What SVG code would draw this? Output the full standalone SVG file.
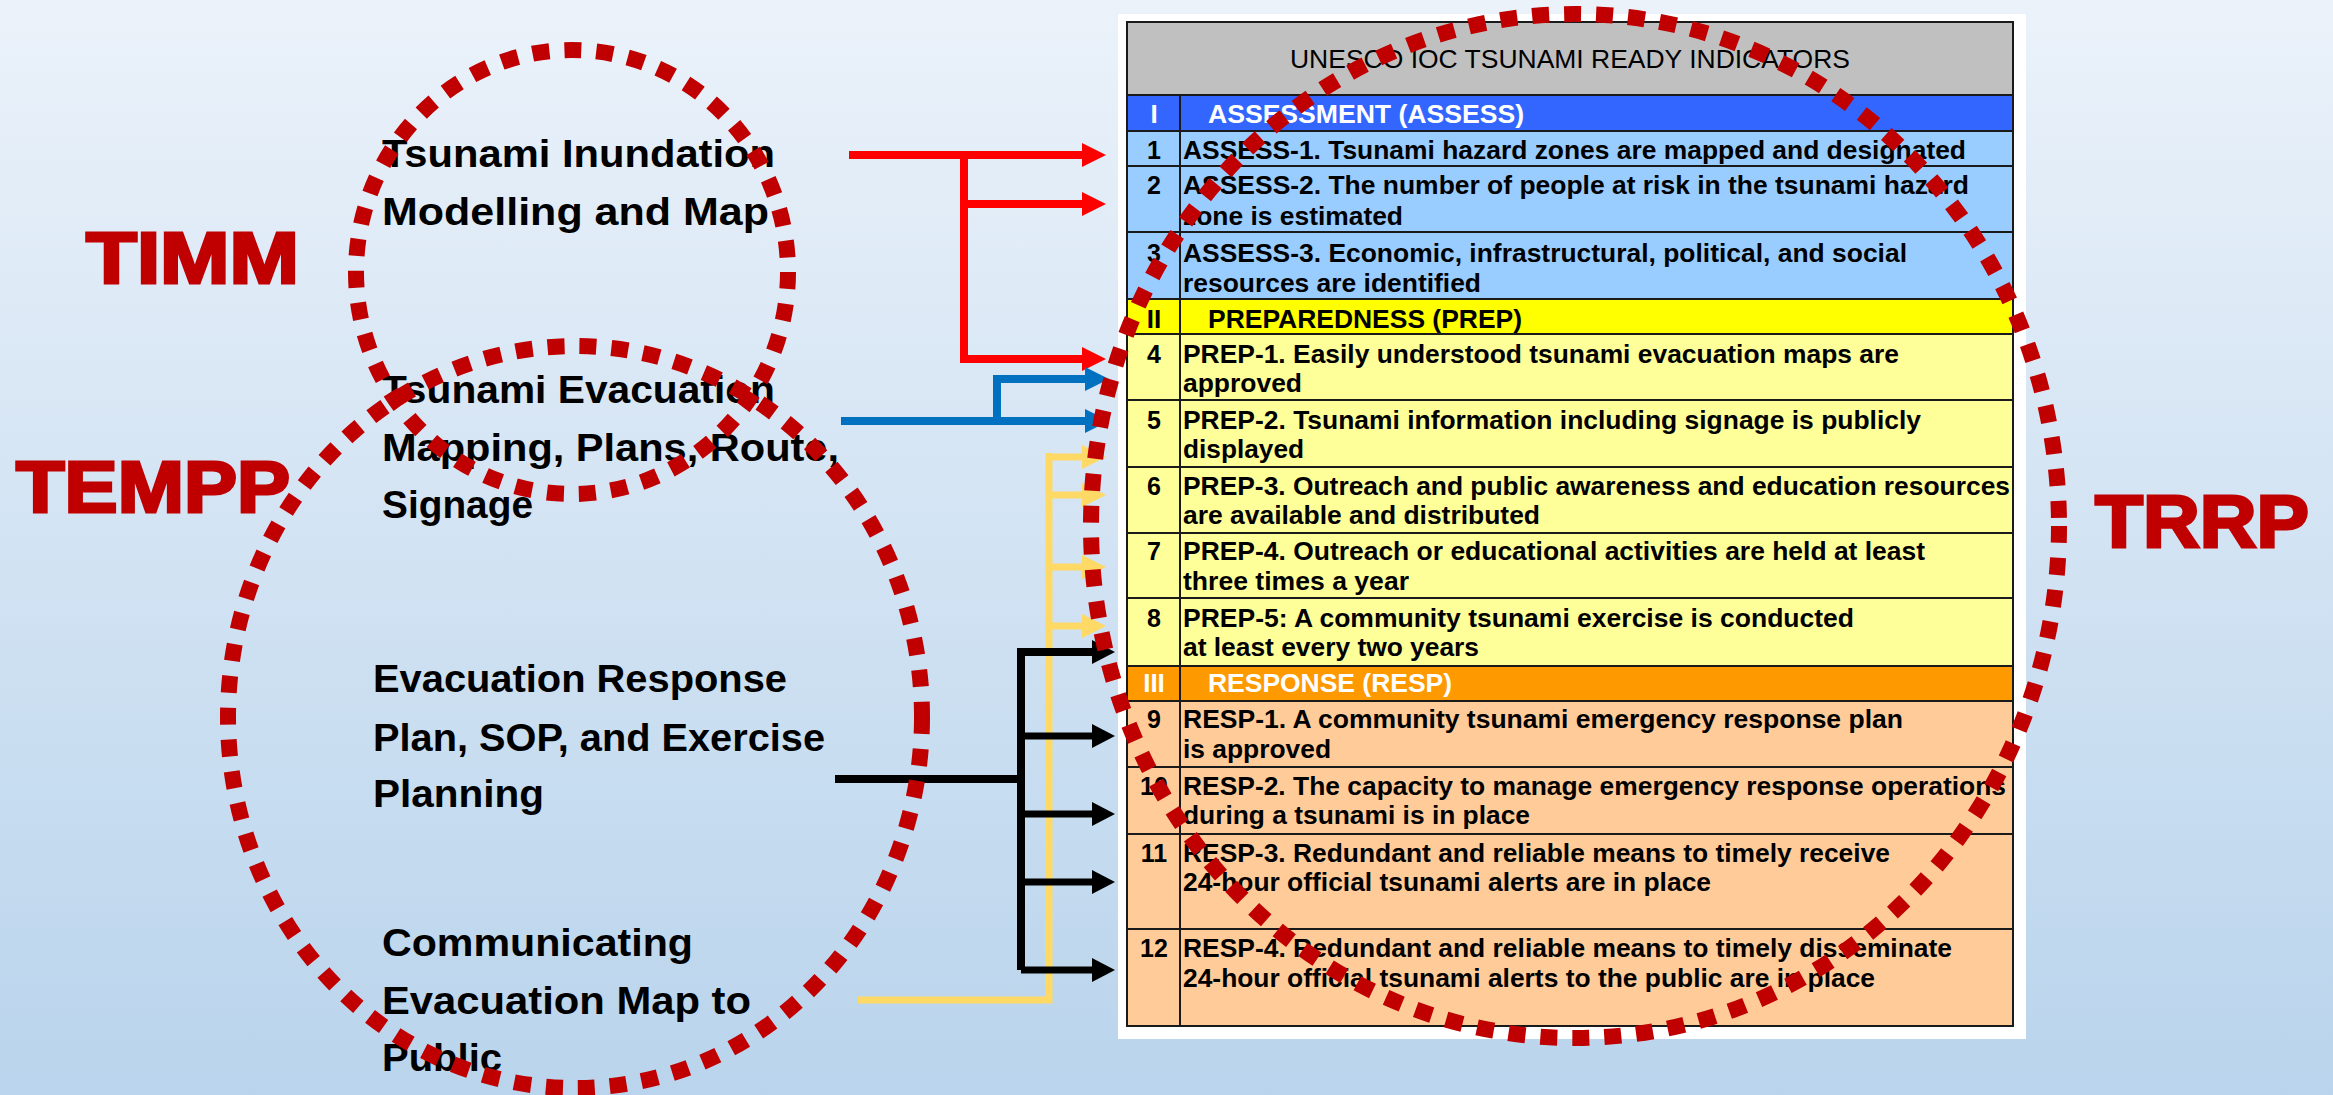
<svg xmlns="http://www.w3.org/2000/svg" width="2333" height="1095" viewBox="0 0 2333 1095">
<defs>
<linearGradient id="bg" x1="0" y1="0" x2="0" y2="1">
<stop offset="0" stop-color="#EBF2FA"/>
<stop offset="1" stop-color="#B9D4EC"/>
</linearGradient>
<marker id="ah-red" markerUnits="userSpaceOnUse" markerWidth="24" markerHeight="24" refX="0" refY="12" orient="auto" overflow="visible"><path d="M0,0 L24,12 L0,24 Z" fill="#FF0000"/></marker>
<marker id="ah-blue" markerUnits="userSpaceOnUse" markerWidth="24" markerHeight="24" refX="0" refY="12" orient="auto" overflow="visible"><path d="M0,0 L24,12 L0,24 Z" fill="#0070C0"/></marker>
<marker id="ah-yellow" markerUnits="userSpaceOnUse" markerWidth="24" markerHeight="24" refX="0" refY="12" orient="auto" overflow="visible"><path d="M0,0 L24,12 L0,24 Z" fill="#FFD966"/></marker>
<marker id="ah-black" markerUnits="userSpaceOnUse" markerWidth="24" markerHeight="24" refX="0" refY="12" orient="auto" overflow="visible"><path d="M0,0 L23,12 L0,24 Z" fill="#000000"/></marker>
</defs>
<style>
.lbl{font-family:"Liberation Sans",Arial,sans-serif;font-weight:bold;font-size:39px;fill:#000}
.big{font-family:"Liberation Sans",Arial,sans-serif;font-weight:bold;font-size:72px;fill:#C00000;stroke:#C00000;stroke-width:3;stroke-linejoin:miter}
.cell{font-family:"Liberation Sans",Arial,sans-serif;font-weight:bold;font-size:25px;fill:#000}
.num{font-family:"Liberation Sans",Arial,sans-serif;font-weight:bold;font-size:25px;fill:#000;text-anchor:middle}
.sec{font-family:"Liberation Sans",Arial,sans-serif;font-weight:bold;font-size:26px}
.title{font-family:"Liberation Sans",Arial,sans-serif;font-size:25px;fill:#000;text-anchor:middle}
.grid{stroke:#1a1a1a;stroke-width:2;fill:none}
.ring{fill:none;stroke:#C00000;stroke-width:16;stroke-dasharray:17 15}
.red{fill:none;stroke:#FF0000;stroke-width:8}
.blue{fill:none;stroke:#0070C0;stroke-width:8}
.yel{fill:none;stroke:#FFD966;stroke-width:7}
.blk{fill:none;stroke:#000;stroke-width:7}
</style>
<rect x="0" y="0" width="2333" height="1095" fill="url(#bg)"/>

<g id="node-table">
<rect x="1118" y="14" width="908" height="1025" fill="#FFFFFF"/>
<rect x="1127" y="22" width="886" height="73" fill="#C0C0C0"/>
<rect x="1127" y="95" width="886" height="36" fill="#3366FF"/>
<rect x="1127" y="131" width="886" height="168" fill="#99CCFF"/>
<rect x="1127" y="299" width="886" height="35" fill="#FFFF00"/>
<rect x="1127" y="334" width="886" height="332" fill="#FFFF99"/>
<rect x="1127" y="666" width="886" height="35" fill="#FF9900"/>
<rect x="1127" y="701" width="886" height="325" fill="#FFCC99"/>
<path class="grid" d="M1127,95 H2013 M1127,131 H2013 M1127,166 H2013 M1127,232 H2013 M1127,299 H2013 M1127,334 H2013 M1127,400 H2013 M1127,467 H2013 M1127,533 H2013 M1127,598 H2013 M1127,666 H2013 M1127,701 H2013 M1127,767 H2013 M1127,834 H2013 M1127,929 H2013 M1180,95 V1026"/>
<rect class="grid" x="1127" y="22" width="886" height="1004"/>
<text class="title" x="1570" y="68" textLength="560" lengthAdjust="spacingAndGlyphs">UNESCO IOC TSUNAMI READY INDICATORS</text>
<text class="sec" x="1154" y="123" fill="#FFFFFF" text-anchor="middle">I</text>
<text class="sec" x="1208" y="123" fill="#FFFFFF" textLength="316" lengthAdjust="spacingAndGlyphs">ASSESSMENT (ASSESS)</text>
<text class="sec" x="1154" y="328" fill="#000" text-anchor="middle">II</text>
<text class="sec" x="1208" y="328" fill="#000" textLength="314" lengthAdjust="spacingAndGlyphs">PREPAREDNESS (PREP)</text>
<text class="sec" x="1154" y="692" fill="#FFFFFF" text-anchor="middle">III</text>
<text class="sec" x="1208" y="692" fill="#FFFFFF" textLength="244" lengthAdjust="spacingAndGlyphs">RESPONSE (RESP)</text>

<text class="num" x="1154" y="159">1</text>
<text class="cell" x="1183" y="159" textLength="783" lengthAdjust="spacingAndGlyphs">ASSESS-1. Tsunami hazard zones are mapped and designated</text>
<text class="num" x="1154" y="194">2</text>
<text class="cell" x="1183" y="194" textLength="786" lengthAdjust="spacingAndGlyphs">ASSESS-2. The number of people at risk in the tsunami hazard</text>
<text class="cell" x="1183" y="225" textLength="220" lengthAdjust="spacingAndGlyphs">zone is estimated</text>
<text class="num" x="1154" y="262">3</text>
<text class="cell" x="1183" y="262" textLength="724" lengthAdjust="spacingAndGlyphs">ASSESS-3. Economic, infrastructural, political, and social</text>
<text class="cell" x="1183" y="292" textLength="298" lengthAdjust="spacingAndGlyphs">resources are identified</text>

<text class="num" x="1154" y="363">4</text>
<text class="cell" x="1183" y="363" textLength="716" lengthAdjust="spacingAndGlyphs">PREP-1. Easily understood tsunami evacuation maps are</text>
<text class="cell" x="1183" y="392" textLength="119" lengthAdjust="spacingAndGlyphs">approved</text>
<text class="num" x="1154" y="429">5</text>
<text class="cell" x="1183" y="429" textLength="738" lengthAdjust="spacingAndGlyphs">PREP-2. Tsunami information including signage is publicly</text>
<text class="cell" x="1183" y="458" textLength="121" lengthAdjust="spacingAndGlyphs">displayed</text>
<text class="num" x="1154" y="495">6</text>
<text class="cell" x="1183" y="495" textLength="827" lengthAdjust="spacingAndGlyphs">PREP-3. Outreach and public awareness and education resources</text>
<text class="cell" x="1183" y="524" textLength="357" lengthAdjust="spacingAndGlyphs">are available and distributed</text>
<text class="num" x="1154" y="560">7</text>
<text class="cell" x="1183" y="560" textLength="742" lengthAdjust="spacingAndGlyphs">PREP-4. Outreach or educational activities are held at least</text>
<text class="cell" x="1183" y="590" textLength="226" lengthAdjust="spacingAndGlyphs">three times a year</text>
<text class="num" x="1154" y="627">8</text>
<text class="cell" x="1183" y="627" textLength="671" lengthAdjust="spacingAndGlyphs">PREP-5: A community tsunami exercise is conducted</text>
<text class="cell" x="1183" y="656" textLength="296" lengthAdjust="spacingAndGlyphs">at least every two years</text>

<text class="num" x="1154" y="728">9</text>
<text class="cell" x="1183" y="728" textLength="720" lengthAdjust="spacingAndGlyphs">RESP-1. A community tsunami emergency response plan</text>
<text class="cell" x="1183" y="758" textLength="148" lengthAdjust="spacingAndGlyphs">is approved</text>
<text class="num" x="1154" y="795">10</text>
<text class="cell" x="1183" y="795" textLength="823" lengthAdjust="spacingAndGlyphs">RESP-2. The capacity to manage emergency response operations</text>
<text class="cell" x="1183" y="824" textLength="347" lengthAdjust="spacingAndGlyphs">during a tsunami is in place</text>
<text class="num" x="1154" y="862">11</text>
<text class="cell" x="1183" y="862" textLength="707" lengthAdjust="spacingAndGlyphs">RESP-3. Redundant and reliable means to timely receive</text>
<text class="cell" x="1183" y="891" textLength="528" lengthAdjust="spacingAndGlyphs">24-hour official tsunami alerts are in place</text>
<text class="num" x="1154" y="957">12</text>
<text class="cell" x="1183" y="957" textLength="769" lengthAdjust="spacingAndGlyphs">RESP-4. Redundant and reliable means to timely disseminate</text>
<text class="cell" x="1183" y="987" textLength="692" lengthAdjust="spacingAndGlyphs">24-hour official tsunami alerts to the public are in place</text>
</g>

<g id="connectors">
<path class="red" d="M849,155 H1082" marker-end="url(#ah-red)"/>
<path class="red" d="M964,155 V359 H1082" marker-end="url(#ah-red)"/>
<path class="red" d="M964,204 H1082" marker-end="url(#ah-red)"/>
<path class="blue" d="M841,421 H1085" marker-end="url(#ah-blue)"/>
<path class="blue" d="M997,421 V379 H1085" marker-end="url(#ah-blue)"/>
<path class="yel" d="M858,1000 H1049 V453"/>
<path class="yel" d="M1049,457 H1082" marker-end="url(#ah-yellow)"/>
<path class="yel" d="M1049,495 H1082" marker-end="url(#ah-yellow)"/>
<path class="yel" d="M1049,567 H1082" marker-end="url(#ah-yellow)"/>
<path class="yel" d="M1049,626 H1082" marker-end="url(#ah-yellow)"/>
<path class="blk" d="M835,779 H1021" style="stroke-width:8"/>
<path class="blk" d="M1021,970 V652 H1092" style="stroke-width:8" marker-end="url(#ah-black)"/>
<path class="blk" d="M1021,736 H1092" marker-end="url(#ah-black)"/>
<path class="blk" d="M1021,814 H1092" marker-end="url(#ah-black)"/>
<path class="blk" d="M1021,882 H1092" marker-end="url(#ah-black)"/>
<path class="blk" d="M1021,970 H1092" marker-end="url(#ah-black)"/>
</g>

<g id="node-inundation">
<text class="lbl" x="382" y="167" textLength="393" lengthAdjust="spacingAndGlyphs">Tsunami Inundation</text>
<text class="lbl" x="382" y="225" textLength="387" lengthAdjust="spacingAndGlyphs">Modelling and Map</text>
</g>
<g id="node-evac-mapping">
<text class="lbl" x="382" y="403" textLength="393" lengthAdjust="spacingAndGlyphs">Tsunami Evacuation</text>
<text class="lbl" x="382" y="461" textLength="457" lengthAdjust="spacingAndGlyphs">Mapping, Plans, Route,</text>
<text class="lbl" x="382" y="518" textLength="151" lengthAdjust="spacingAndGlyphs">Signage</text>
</g>
<g id="node-response-plan">
<text class="lbl" x="373" y="692" textLength="414" lengthAdjust="spacingAndGlyphs">Evacuation Response</text>
<text class="lbl" x="373" y="751" textLength="452" lengthAdjust="spacingAndGlyphs">Plan, SOP, and Exercise</text>
<text class="lbl" x="373" y="807" textLength="171" lengthAdjust="spacingAndGlyphs">Planning</text>
</g>
<g id="node-communicating">
<text class="lbl" x="382" y="956" textLength="311" lengthAdjust="spacingAndGlyphs">Communicating</text>
<text class="lbl" x="382" y="1014" textLength="369" lengthAdjust="spacingAndGlyphs">Evacuation Map to</text>
<text class="lbl" x="382" y="1071" textLength="120" lengthAdjust="spacingAndGlyphs">Public</text>
</g>

<g id="node-timm">
<text class="big" x="86" y="283" textLength="213" lengthAdjust="spacingAndGlyphs">TIMM</text>
<ellipse class="ring" cx="572" cy="272" rx="216" ry="222"/>
</g>
<g id="node-tempp">
<text class="big" x="16" y="512" textLength="274" lengthAdjust="spacingAndGlyphs">TEMPP</text>
<ellipse class="ring" cx="575" cy="717" rx="347" ry="371"/>
</g>
<g id="node-trrp">
<text class="big" x="2095" y="547" textLength="214" lengthAdjust="spacingAndGlyphs" style="font-size:75px">TRRP</text>
<ellipse class="ring" cx="1575" cy="526" rx="484" ry="512"/>
</g>
</svg>
